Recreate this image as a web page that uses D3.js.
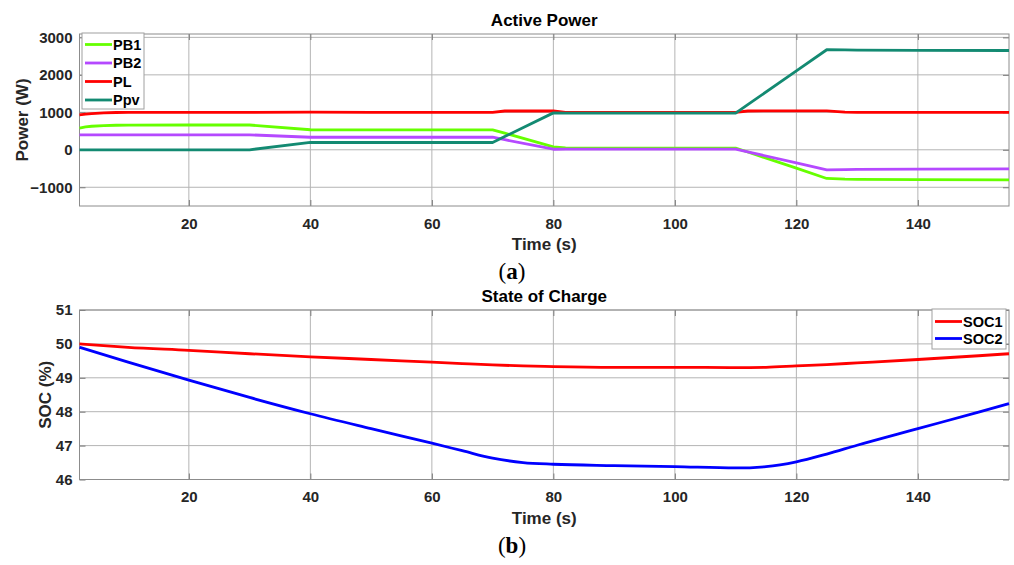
<!DOCTYPE html>
<html>
<head>
<meta charset="utf-8">
<script src="https://cdn.jsdelivr.net/npm/d3@7"></script>
<style>
  body { margin: 0; background: #fff; }
  svg { display: block; font-family: "Liberation Sans", Arial, sans-serif; }
  .tick text { fill: #262626; font-weight: bold; font-size: 15px; font-family: "Liberation Sans", Arial, sans-serif; }
  .grid line { stroke: #b4b4b4; stroke-width: 1; }
  .frame { fill: none; stroke: #8c8c8c; stroke-width: 1; }
  .title { font-weight: bold; font-size: 17px; fill: #000; }
  .axis-label { font-weight: bold; font-size: 17px; fill: #262626; }
  .leg text { font-weight: bold; font-size: 14.5px; fill: #000; }
  .panel-tag { font-family: "Liberation Serif", "Times New Roman", serif; font-size: 23px; fill: #000; }
</style>
</head>
<body>
<svg id="chart" width="1014" height="565"></svg>
<script>
// ─── data ───
const timeP = [2, 3, 4, 6, 8, 10, 20, 30, 40, 50, 60, 70, 72, 80, 82, 90, 100, 110, 112, 120, 125, 128, 130, 140, 155];
const pb1 = [580, 610, 628, 645, 655, 660, 662, 662, 535, 530, 530, 530, 445, 80, 50, 45, 45, 45, -60, -490, -765, -785, -790, -795, -805];
const pb2 = [400, 400, 400, 400, 400, 400, 400, 400, 335, 335, 335, 335, 270, 15, 18, 18, 18, 18, -55, -350, -535, -530, -525, -515, -510];
const pl  = [930, 950, 965, 985, 995, 998, 1000, 1000, 1005, 1000, 1000, 1000, 1035, 1040, 1000, 1000, 1000, 1000, 1035, 1040, 1040, 1005, 1000, 1000, 1000];
const ppv = [0, 0, 0, 0, 0, 0, 0, 0, 195, 195, 195, 195, 352, 985, 980, 980, 980, 980, 1205, 2105, 2670, 2665, 2660, 2655, 2650];

const timeS = [2, 10, 20, 30, 40, 50, 60, 65, 70, 75, 80, 90, 100, 110, 115, 120, 125, 130, 140, 150, 155];
const soc1 = [50.0, 49.9, 49.81, 49.71, 49.62, 49.54, 49.46, 49.42, 49.38, 49.35, 49.33, 49.31, 49.31, 49.30, 49.31, 49.35, 49.39, 49.44, 49.54, 49.65, 49.71];
const soc2 = [49.9, 49.46, 48.93, 48.42, 47.94, 47.5, 47.07, 46.85, 46.63, 46.50, 46.45, 46.41, 46.38, 46.34, 46.38, 46.52, 46.75, 47.01, 47.50, 47.99, 48.24];

const xTicks = [20, 40, 60, 80, 100, 120, 140];
const powerTicks = [-1000, 0, 1000, 2000, 3000];
const socTicks = [46, 47, 48, 49, 50, 51];

const powerSeries = [
    { name: "PB1", values: pb1, color: "#66ff00" },
    { name: "PB2", values: pb2, color: "#b549ff" },
    { name: "PL",  values: pl,  color: "#ff0000" },
    { name: "Ppv", values: ppv, color: "#138a72" }
];
const socSeries = [
    { name: "SOC1", values: soc1, color: "#ff0000" },
    { name: "SOC2", values: soc2, color: "#0000ff" }
];

const svg = d3.select("#chart");

function drawPanel(cfg) {
    const { top, bottom, left, right } = cfg.box;
    const x = d3.scaleLinear().domain([2, 155]).range([left, right]);
    const y = d3.scaleLinear().domain(cfg.yDomain).range([bottom, top]);
    const g = svg.append("g");

    // grid
    g.append("g").attr("class", "grid")
        .selectAll("line.v").data(xTicks).join("line")
        .attr("x1", d => x(d)).attr("x2", d => x(d))
        .attr("y1", top).attr("y2", bottom);
    g.append("g").attr("class", "grid")
        .selectAll("line.h").data(cfg.yTicks).join("line")
        .attr("x1", left).attr("x2", right)
        .attr("y1", d => y(d)).attr("y2", d => y(d));

    // axes, ticks inward
    const ax = g.append("g").attr("transform", `translate(0,${bottom})`)
        .call(d3.axisBottom(x).tickValues(xTicks).tickSize(-6).tickPadding(12));
    const ay = g.append("g").attr("transform", `translate(${left},0)`)
        .call(d3.axisLeft(y).tickValues(cfg.yTicks).tickSize(-6).tickPadding(7).tickFormat(d3.format("d")));
    const axT = g.append("g").attr("transform", `translate(0,${top})`)
        .call(d3.axisTop(x).tickValues(xTicks).tickSize(-6).tickFormat(""));
    const ayR = g.append("g").attr("transform", `translate(${right},0)`)
        .call(d3.axisRight(y).tickValues(cfg.yTicks).tickSize(-6).tickFormat(""));
    [ax, ay, axT, ayR].forEach(a => {
        a.select(".domain").remove();
        a.selectAll(".tick line").attr("stroke", "#7a7a7a");
    });

    g.append("rect").attr("class", "frame")
        .attr("x", left).attr("y", top)
        .attr("width", right - left).attr("height", bottom - top);

    // lines
    const line = d3.line()
        .x((d, i) => x(cfg.time[i]))
        .y(d => y(d))
        .curve(cfg.curve);
    g.append("g").selectAll("path").data(cfg.series).join("path")
        .attr("fill", "none")
        .attr("stroke", d => d.color)
        .attr("stroke-width", 2.8)
        .attr("stroke-linejoin", "round")
        .attr("d", d => line(d.values));

    // title + labels
    const cx = (left + right) / 2;
    g.append("text").attr("class", "title")
        .attr("x", cx).attr("y", top - 8).attr("text-anchor", "middle")
        .text(cfg.title);
    g.append("text").attr("class", "axis-label")
        .attr("x", cx).attr("y", bottom + 44).attr("text-anchor", "middle")
        .text("Time (s)");
    g.append("text").attr("class", "axis-label")
        .attr("transform", `translate(${cfg.yLabelX},${(top + bottom) / 2}) rotate(-90)`)
        .attr("text-anchor", "middle")
        .text(cfg.yLabel);

    const tag = g.append("text").attr("class", "panel-tag")
        .attr("x", 512).attr("y", bottom + 73).attr("text-anchor", "middle");
    tag.append("tspan").text("(");
    tag.append("tspan").attr("font-weight", "bold").text(cfg.tag);
    tag.append("tspan").text(")");

    // legend
    const L = cfg.legend;
    const leg = g.append("g").attr("class", "leg")
        .attr("transform", `translate(${L.x},${L.y})`);
    leg.append("rect")
        .attr("width", L.w).attr("height", L.h)
        .attr("fill", "#fff").attr("stroke", "#a0a0a0");
    const items = leg.selectAll("g.item").data(cfg.series).join("g")
        .attr("class", "item")
        .attr("transform", (d, i) => `translate(0,${L.first + i * L.step})`);
    items.append("line")
        .attr("x1", 3).attr("x2", 30)
        .attr("stroke", d => d.color).attr("stroke-width", 2.8);
    items.append("text")
        .attr("x", 31).attr("dy", "0.36em")
        .text(d => d.name);
}

drawPanel({
    box: { top: 34, bottom: 206, left: 79.5, right: 1009 },
    yDomain: [-1500, 3090],
    yTicks: powerTicks,
    time: timeP,
    series: powerSeries,
    curve: d3.curveLinear,
    title: "Active Power",
    yLabel: "Power (W)",
    yLabelX: 28,
    tag: "a",
    legend: { x: 82, y: 33, w: 62, h: 76, first: 11.5, step: 18.5 }
});

drawPanel({
    box: { top: 310, bottom: 479.5, left: 79.5, right: 1009 },
    yDomain: [46, 51],
    yTicks: socTicks,
    time: timeS,
    series: socSeries,
    curve: d3.curveMonotoneX,
    title: "State of Charge",
    yLabel: "SOC (%)",
    yLabelX: 51,
    tag: "b",
    legend: { x: 932, y: 309, w: 74, h: 40, first: 12.5, step: 17 }
});
</script>
</body>
</html>
